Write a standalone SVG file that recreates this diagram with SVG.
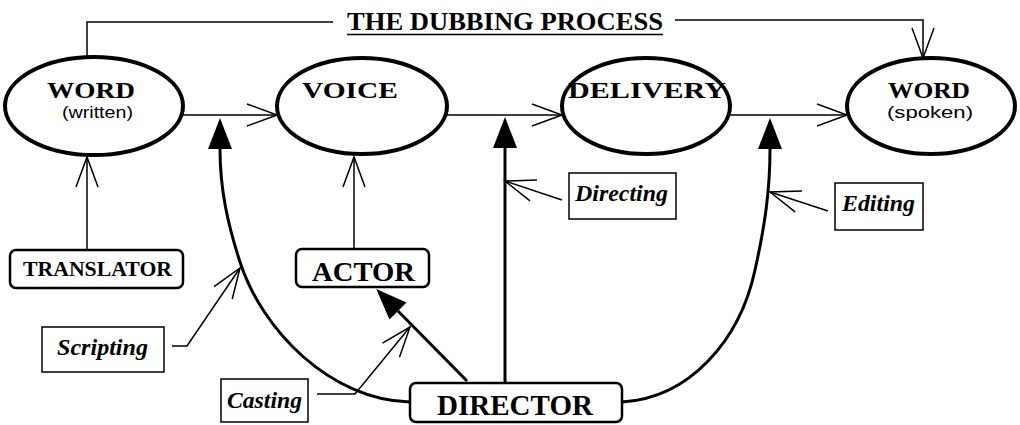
<svg xmlns="http://www.w3.org/2000/svg" width="1020" height="425" viewBox="0 0 1020 425">
<style>
.ell{fill:#fff;stroke:#000;stroke-width:4}
.box{fill:#fff;stroke:#000;stroke-width:2.5}
.lab{fill:#fff;stroke:#000;stroke-width:1.5}
.thin{fill:none;stroke:#000;stroke-width:1.5}
.thick{fill:none;stroke:#000;stroke-width:3}
.b{font-family:"Liberation Serif","Times New Roman",serif;font-weight:bold;fill:#000}
.s{font-family:"Liberation Sans",Arial,sans-serif;fill:#000}
.i{font-family:"Liberation Serif","Times New Roman",serif;font-weight:bold;font-style:italic;fill:#000}
</style>
<defs>
<marker id="open" viewBox="0 0 32 24" refX="30" refY="12" markerWidth="32" markerHeight="24" markerUnits="userSpaceOnUse" orient="auto" overflow="visible">
<path d="M0,1 L30,12 L0,23" fill="none" stroke="#000" stroke-width="1.5"/>
</marker>
<marker id="solid" viewBox="0 0 32 24" refX="0" refY="12" markerWidth="32" markerHeight="24" markerUnits="userSpaceOnUse" orient="auto" overflow="visible">
<path d="M0,0 L31,12 L0,24 Z" fill="#000"/>
</marker>
</defs>

<g id="connectors">
<polyline class="thin" points="87,57 87,22 333,22"/>
<polyline class="thin" points="675,20 923,20 923,58" marker-end="url(#open)"/>
<line class="thin" x1="183" y1="115" x2="277" y2="115" marker-end="url(#open)"/>
<line class="thin" x1="447" y1="115" x2="562" y2="115" stroke-width="2" marker-end="url(#open)"/>
<line class="thin" x1="730" y1="115" x2="847" y2="115" marker-end="url(#open)"/>
<line class="thin" x1="87" y1="250" x2="87" y2="157" marker-end="url(#open)"/>
<line class="thin" x1="354" y1="249" x2="354" y2="157" marker-end="url(#open)"/>
<path class="thick" d="M410,402 C330,400 262,330 240,262 C228,225 220,190 220,149" marker-end="url(#solid)"/>
<line class="thick" x1="505" y1="383" x2="505" y2="148" marker-end="url(#solid)"/>
<path class="thick" d="M622,402 C690,398 740,340 755,270 C765,225 770,190 770,149" marker-end="url(#solid)"/>
<line class="thick" x1="467" y1="381" x2="398" y2="311" marker-end="url(#solid)"/>
<polyline class="thin" points="172,346 187,346 240,268" marker-end="url(#open)"/>
<polyline class="thin" points="317,394 355,394 410,327" marker-end="url(#open)"/>
<line class="thin" x1="562" y1="200" x2="505" y2="181" marker-end="url(#open)"/>
<line class="thin" x1="828" y1="211" x2="770" y2="192" marker-end="url(#open)"/>
</g>

<g id="title">
<text class="b" x="347" y="30" font-size="25" textLength="316" lengthAdjust="spacingAndGlyphs">THE DUBBING PROCESS</text>
<line x1="347" y1="34.5" x2="663" y2="34.5" stroke="#000" stroke-width="1.5"/>
</g>

<g id="word-written">
<ellipse class="ell" cx="94" cy="106" rx="89" ry="49"/>
<text class="b" x="47" y="98" font-size="24" textLength="88" lengthAdjust="spacingAndGlyphs">WORD</text>
<text class="s" x="62" y="118" font-size="17" textLength="71" lengthAdjust="spacingAndGlyphs">(written)</text>
</g>

<g id="voice">
<ellipse class="ell" cx="362" cy="106" rx="85" ry="48"/>
<text class="b" x="302" y="98" font-size="24" textLength="96" lengthAdjust="spacingAndGlyphs">VOICE</text>
</g>

<g id="delivery">
<ellipse class="ell" cx="646" cy="106" rx="84" ry="48"/>
<text class="b" x="568" y="98" font-size="24" textLength="158" lengthAdjust="spacingAndGlyphs">DELIVERY</text>
</g>

<g id="word-spoken">
<ellipse class="ell" cx="931" cy="106" rx="84" ry="48"/>
<text class="b" x="888" y="98" font-size="24" textLength="82" lengthAdjust="spacingAndGlyphs">WORD</text>
<text class="s" x="887" y="118" font-size="17" textLength="86" lengthAdjust="spacingAndGlyphs">(spoken)</text>
</g>

<g id="translator">
<rect class="box" x="10" y="250" width="173" height="38" rx="6"/>
<text class="b" x="23" y="276" font-size="22" textLength="149" lengthAdjust="spacingAndGlyphs">TRANSLATOR</text>
</g>

<g id="actor">
<rect class="box" x="296" y="249" width="133" height="38" rx="6"/>
<text class="b" x="312" y="281" font-size="28" textLength="103" lengthAdjust="spacingAndGlyphs">ACTOR</text>
</g>

<g id="director">
<rect class="box" x="410" y="383" width="212" height="39" rx="6"/>
<text class="b" x="437" y="415" font-size="30" textLength="156" lengthAdjust="spacingAndGlyphs">DIRECTOR</text>
</g>

<g id="scripting">
<rect class="lab" x="42" y="327" width="122" height="45"/>
<text class="i" x="57" y="355" font-size="23" textLength="91" lengthAdjust="spacingAndGlyphs">Scripting</text>
</g>

<g id="casting">
<rect class="lab" x="221" y="379" width="87" height="43"/>
<text class="i" x="227" y="408" font-size="23" textLength="75" lengthAdjust="spacingAndGlyphs">Casting</text>
</g>

<g id="directing">
<rect class="lab" x="569" y="173" width="107" height="46"/>
<text class="i" x="575" y="201" font-size="23" textLength="93" lengthAdjust="spacingAndGlyphs">Directing</text>
</g>

<g id="editing">
<rect class="lab" x="835" y="183" width="88" height="47"/>
<text class="i" x="842" y="211" font-size="23" textLength="73" lengthAdjust="spacingAndGlyphs">Editing</text>
</g>
</svg>
